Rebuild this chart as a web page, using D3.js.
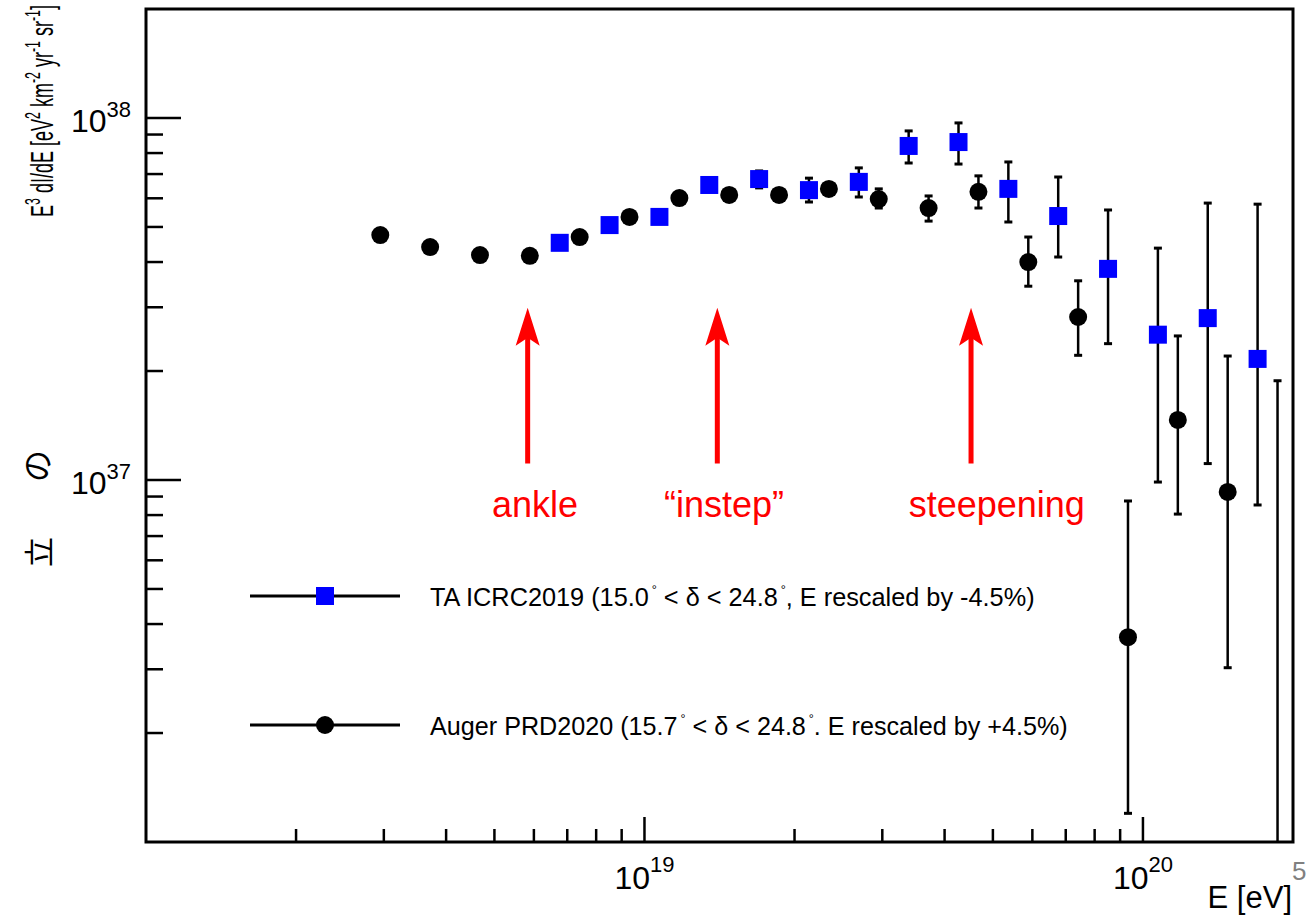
<!DOCTYPE html>
<html>
<head>
<meta charset="utf-8">
<script src="https://cdn.jsdelivr.net/npm/d3@7"></script>
<style>
  body { margin: 0; background: #fff; }
  text { font-family: "Liberation Sans", Arial, sans-serif; }
</style>
</head>
<body>
<div id="chart"></div>
<script>
// TA ICRC2019 (blue squares), log10(E/eV) after -4.5% rescale
var taLogE = [18.83, 18.93, 19.03, 19.13, 19.23, 19.33, 19.43, 19.53, 19.63, 19.73, 19.83, 19.93, 20.03, 20.13, 20.23];
var taFlux = [4.52e37, 5.06e37, 5.33e37, 6.53e37, 6.78e37, 6.32e37, 6.66e37, 8.37e37, 8.58e37, 6.37e37, 5.36e37, 3.83e37, 2.52e37, 2.80e37, 2.16e37];
var taLow  = [4.40e37, 4.93e37, 5.19e37, 6.38e37, 6.41e37, 5.86e37, 6.05e37, 7.51e37, 7.46e37, 5.16e37, 4.13e37, 2.38e37, 9.87e36, 1.11e37, 8.53e36];
var taHigh = [4.64e37, 5.19e37, 5.47e37, 6.68e37, 7.14e37, 6.82e37, 7.28e37, 9.21e37, 9.69e37, 7.56e37, 6.87e37, 5.57e37, 4.37e37, 5.82e37, 5.78e37];

// Auger PRD2020 (black circles), log10(E/eV) after +4.5% rescale
var augerLogE = [18.47, 18.57, 18.67, 18.77, 18.87, 18.97, 19.07, 19.17, 19.27, 19.37, 19.47, 19.57, 19.67, 19.77, 19.87, 19.97, 20.07, 20.17, 20.27];
var augerFlux = [4.75e37, 4.40e37, 4.18e37, 4.16e37, 4.69e37, 5.33e37, 6.01e37, 6.13e37, 6.13e37, 6.37e37, 5.97e37, 5.64e37, 6.25e37, 4.00e37, 2.82e37, 3.68e36, 1.465e37, 9.27e36, 6e35];
var augerLow  = [4.66e37, 4.32e37, 4.10e37, 4.08e37, 4.60e37, 5.23e37, 5.90e37, 6.01e37, 6.01e37, 6.24e37, 5.64e37, 5.19e37, 5.64e37, 3.43e37, 2.21e37, 1.20e36, 8.05e36, 3.03e36, 1e35];
var augerHigh = [4.84e37, 4.48e37, 4.26e37, 4.24e37, 4.78e37, 5.43e37, 6.12e37, 6.25e37, 6.25e37, 6.50e37, 6.37e37, 6.09e37, 6.92e37, 4.69e37, 3.55e37, 8.75e36, 2.50e37, 2.20e37, 1.88e37];

// red annotations
var arrowE = [5.83e18, 1.40e19, 4.52e19];
var arrowLabels = ["ankle", "\u201Cinstep\u201D", "steepening"];
var labelE = [6.03e18, 1.444e19, 5.09e19];
var arrowFrom = 1.11e37, arrowTo = 2.99e37, labelFlux = 7.9e36;

var xMajor = [1e19, 1e20];
var xMajorExp = ["19", "20"];
var yMajor = [1e37, 1e38];
var yMajorExp = ["37", "38"];

var width = 1307, height = 917;
var svg = d3.select("#chart").append("svg")
  .attr("width", width).attr("height", height);

svg.append("rect").attr("width", width).attr("height", height).attr("fill", "#fff");

var x = d3.scaleLog().domain([1e18, 2e20]).range([146, 1293]);
var y = d3.scaleLog().domain([1e36, 2e38]).range([842, 9]);

svg.append("clipPath").attr("id", "frameclip")
  .append("rect").attr("x", 146).attr("y", 9).attr("width", 1147).attr("height", 833);

// minor + major ticks (inside the frame, like ROOT)
var xTicks = x.ticks().filter(function(t){ return t > 1e18 && t < 1.99e20; });
var yTicks = y.ticks().filter(function(t){ return t > 1e36 && t < 1.99e38; });
function isMajor(t){ var l = Math.log10(t); return Math.abs(l - Math.round(l)) < 1e-6; }

var axes = svg.append("g").attr("stroke", "#000").attr("stroke-width", 2.5);
axes.selectAll(".xt").data(xTicks).join("line")
  .attr("x1", function(d){ return x(d); }).attr("x2", function(d){ return x(d); })
  .attr("y1", 842).attr("y2", function(d){ return isMajor(d) ? 817 : 829; });
axes.selectAll(".yt").data(yTicks).join("line")
  .attr("y1", function(d){ return y(d); }).attr("y2", function(d){ return y(d); })
  .attr("x1", 146).attr("x2", function(d){ return isMajor(d) ? 181 : 163; });

// tick labels 10^n
var xl = svg.append("g").selectAll("text").data(xMajor).join("text")
  .attr("x", function(d){ return x(d); }).attr("y", 889)
  .attr("text-anchor", "middle").attr("font-size", 32);
xl.append("tspan").text("10");
xl.append("tspan").attr("dy", -17).attr("font-size", 22).text(function(d,i){ return xMajorExp[i]; });

var yl = svg.append("g").selectAll("text").data(yMajor).join("text")
  .attr("x", 131).attr("y", function(d){ return y(d) + 14; })
  .attr("text-anchor", "end").attr("font-size", 32);
yl.append("tspan").text("10");
yl.append("tspan").attr("dy", -15).attr("font-size", 22).text(function(d,i){ return yMajorExp[i]; });

// axis titles
svg.append("text").attr("x", 1292).attr("y", 908).attr("text-anchor", "end")
  .attr("font-size", 31).text("E [eV]");
svg.append("text").attr("x", 1292).attr("y", 880).attr("font-size", 26)
  .attr("fill", "#808080").text("5");

var yt = svg.append("text").attr("font-size", 32);
yt.append("tspan").text("E");
yt.append("tspan").attr("dy", -13).attr("font-size", 22).text("3");
yt.append("tspan").attr("dy", 13).text(" dI/dE [eV");
yt.append("tspan").attr("dy", -13).attr("font-size", 22).text("2");
yt.append("tspan").attr("dy", 13).text(" km");
yt.append("tspan").attr("dy", -13).attr("font-size", 22).text("-2");
yt.append("tspan").attr("dy", 13).text(" yr");
yt.append("tspan").attr("dy", -13).attr("font-size", 22).text("-1");
yt.append("tspan").attr("dy", 13).text(" sr");
yt.append("tspan").attr("dy", -13).attr("font-size", 22).text("-1");
yt.append("tspan").attr("dy", 13).text("]");
var ytw = yt.node().getBBox().width;
yt.attr("transform", "translate(53,217) rotate(-90) scale(" + (212 / ytw) + ",1)");

// stray rotated glyphs at left margin
svg.append("text").attr("transform", "translate(49,466) rotate(-90)")
  .attr("text-anchor", "middle").attr("font-size", 32)
  .style("font-family", "'Noto Sans CJK JP'").text("の");
svg.append("text").attr("transform", "translate(50,552) rotate(-90)")
  .attr("text-anchor", "middle").attr("font-size", 30)
  .style("font-family", "'Noto Sans CJK JP'").text("立");

// data
var plot = svg.append("g").attr("clip-path", "url(#frameclip)");

function errorBars(logE, lo, hi){
  var g = plot.append("g").attr("stroke", "#000");
  g.selectAll(".bar").data(logE).join("line")
    .attr("x1", function(d){ return x(Math.pow(10, d)); })
    .attr("x2", function(d){ return x(Math.pow(10, d)); })
    .attr("y1", function(d,i){ return y(lo[i]); })
    .attr("y2", function(d,i){ return y(hi[i]); })
    .attr("stroke-width", 2.5);
  g.selectAll(".capHi").data(logE).join("line")
    .attr("x1", function(d){ return x(Math.pow(10, d)) - 4; })
    .attr("x2", function(d){ return x(Math.pow(10, d)) + 4; })
    .attr("y1", function(d,i){ return y(hi[i]); })
    .attr("y2", function(d,i){ return y(hi[i]); })
    .attr("stroke-width", 3);
  g.selectAll(".capLo").data(logE.filter(function(d,i){ return lo[i] >= 1e36; }))
    .join("line")
    .attr("x1", function(d){ return x(Math.pow(10, d)) - 4; })
    .attr("x2", function(d){ return x(Math.pow(10, d)) + 4; })
    .attr("y1", function(d){ return y(lo[logE.indexOf(d)]); })
    .attr("y2", function(d){ return y(lo[logE.indexOf(d)]); })
    .attr("stroke-width", 3);
}
errorBars(augerLogE, augerLow, augerHigh);
errorBars(taLogE, taLow, taHigh);

plot.append("g").selectAll("circle").data(augerLogE).join("circle")
  .attr("cx", function(d){ return x(Math.pow(10, d)); })
  .attr("cy", function(d,i){ return y(augerFlux[i]); })
  .attr("r", 9).attr("fill", "#000");

plot.append("g").selectAll("rect").data(taLogE).join("rect")
  .attr("x", function(d){ return x(Math.pow(10, d)) - 9; })
  .attr("y", function(d,i){ return y(taFlux[i]) - 9; })
  .attr("width", 18).attr("height", 18).attr("fill", "#0000ff");

// arrows
var arr = svg.append("g");
arrowE.forEach(function(e, i){
  var ax = x(e), y0 = y(arrowFrom), y1 = y(arrowTo);
  arr.append("line").attr("x1", ax).attr("x2", ax).attr("y1", y0).attr("y2", y1 + 20)
    .attr("stroke", "#ff0000").attr("stroke-width", 5);
  arr.append("path")
    .attr("d", "M" + ax + "," + y1 + " L" + (ax + 12) + "," + (y1 + 38) +
      " L" + ax + "," + (y1 + 30) + " L" + (ax - 12) + "," + (y1 + 38) + " Z")
    .attr("fill", "#ff0000");
  arr.append("text").attr("x", x(labelE[i])).attr("y", y(labelFlux))
    .attr("text-anchor", "middle").attr("font-size", 36).attr("fill", "#ff0000")
    .text(arrowLabels[i]);
});

// legend
var legRows = [
  {y: 596, kind: "square", parts: ["TA ICRC2019 (15.0", "\u00B0", " < \u03B4 < 24.8", "\u00B0", ", E rescaled by -4.5%)"], w: 605},
  {y: 725, kind: "circle", parts: ["Auger PRD2020 (15.7", "\u00B0", " < \u03B4 < 24.8", "\u00B0", ". E rescaled by +4.5%)"], w: 638}
];
var leg = svg.append("g");
legRows.forEach(function(r){
  leg.append("line").attr("x1", 250).attr("x2", 400).attr("y1", r.y).attr("y2", r.y)
    .attr("stroke", "#000").attr("stroke-width", 3);
  if (r.kind === "square") {
    leg.append("rect").attr("x", 316).attr("y", r.y - 9).attr("width", 18).attr("height", 18).attr("fill", "#0000ff");
  } else {
    leg.append("circle").attr("cx", 325).attr("cy", r.y).attr("r", 9).attr("fill", "#000");
  }
  var t = leg.append("text").attr("font-size", 26);
  r.parts.forEach(function(p, j){
    if (j % 2 === 1) {
      t.append("tspan").attr("dy", -12).attr("dx", 3).attr("font-size", 13).text(p);
    } else {
      t.append("tspan").attr("dy", j === 0 ? 0 : 12).text(p);
    }
  });
  var tw = t.node().getBBox().width;
  t.attr("transform", "translate(430," + (r.y + 10) + ") scale(" + (r.w / tw) + ",1)");
});

// frame
svg.append("rect").attr("x", 146).attr("y", 9).attr("width", 1147).attr("height", 833)
  .attr("fill", "none").attr("stroke", "#000").attr("stroke-width", 3);
</script>
</body>
</html>
